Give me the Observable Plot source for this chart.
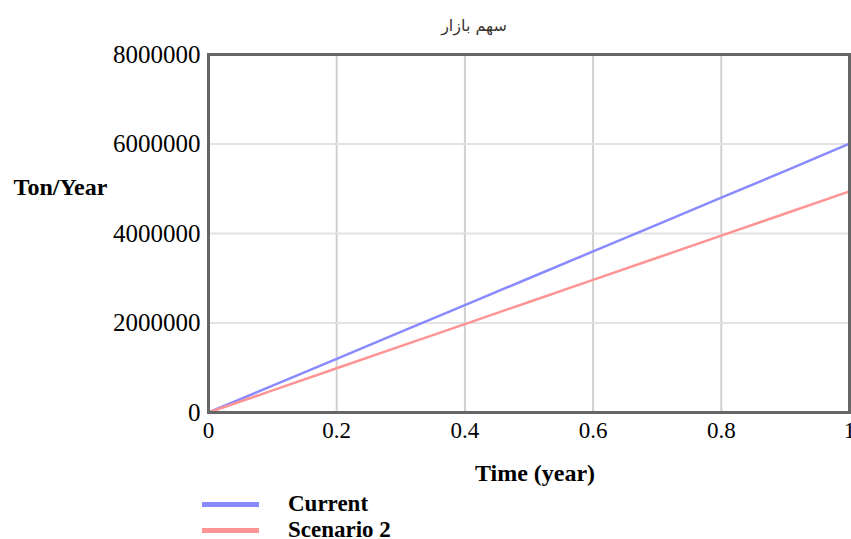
<!DOCTYPE html>
<html><head><meta charset="utf-8">
<script src="https://cdn.jsdelivr.net/npm/d3@7"></script>
<script src="https://cdn.jsdelivr.net/npm/@observablehq/plot@0.6"></script>
<style>
body{margin:0;background:#fff;}
#wrap{position:relative;width:851px;height:539px;overflow:hidden;background:#fff;}
#title{position:absolute;top:14px;left:374px;width:200px;text-align:center;direction:rtl;font-family:"DejaVu Sans",sans-serif;font-size:16px;color:#3a3530;height:26px;line-height:24px;}
#chart{position:absolute;top:40px;left:0;}
#legend{position:absolute;top:491px;left:202px;font-family:"Liberation Serif",serif;font-weight:bold;font-size:23px;color:#000;}
.row{height:26px;line-height:26px;display:flex;align-items:center;}
.sw{display:inline-block;width:57px;height:5px;margin-right:29px;}
</style></head>
<body>
<div id="wrap">
  <div id="title"></div>
  <div id="chart"></div>
  <div id="legend"></div>
</div>
<script>
const titleText = "سهم بازار";
const yLabel = "Ton/Year";
const xLabel = "Time (year)";
const seriesNames = ["Current", "Scenario 2"];
const seriesColors = ["#8a8aff", "#ff9494"];
const time = [0, 0.1, 0.2, 0.3, 0.4, 0.5, 0.6, 0.7, 0.8, 0.9, 1];
const current = [0, 600000, 1200000, 1800000, 2400000, 3000000, 3600000, 4200000, 4800000, 5400000, 6010000];
const scenario2 = [0, 494000, 988000, 1482000, 1976000, 2470000, 2964000, 3458000, 3952000, 4446000, 4940000];
const xTicks = [0, 0.2, 0.4, 0.6, 0.8, 1];
const yTicks = [0, 2000000, 4000000, 6000000, 8000000];

document.getElementById("title").textContent = titleText;

const rows = [];
time.forEach((t, i) => {
  rows.push({t, v: current[i], s: seriesNames[0]});
  rows.push({t, v: scenario2[i], s: seriesNames[1]});
});

const chart = Plot.plot({
  width: 851,
  height: 451,
  marginTop: 14,
  marginBottom: 79,
  marginLeft: 208,
  marginRight: 2,
  style: {fontFamily: "Liberation Serif, serif", fontSize: "22px", color: "#000", background: "#fff", overflow: "visible"},
  x: {domain: [0, 1]},
  y: {domain: [0, 8000000]},
  color: {domain: seriesNames, range: seriesColors},
  marks: [
    Plot.gridX(xTicks.slice(1, -1), {stroke: "#d0d0d0", strokeOpacity: 1, strokeWidth: 2}),
    Plot.gridY(yTicks.slice(1, -1), {stroke: "#e2e2e2", strokeOpacity: 1, strokeWidth: 2}),
    Plot.line(rows, {x: "t", y: "v", stroke: "s", strokeWidth: 2.5}),
    Plot.frame({stroke: "#666", strokeWidth: 3}),
    Plot.axisX(xTicks, {tickSize: 0, tickPadding: 9, tickFormat: d => String(d), label: null, fontSize: 23}),
    Plot.axisY(yTicks, {tickSize: 0, tickPadding: 8, tickFormat: d3.format("d"), label: null, fontSize: 25}),
    Plot.text([yLabel], {frameAnchor: "left", dx: -148, dy: -46, textAnchor: "middle", fontWeight: "bold", fontSize: 24}),
    Plot.text([xLabel], {frameAnchor: "bottom", dx: 6, dy: 68, textAnchor: "middle", fontWeight: "bold", fontSize: 24})
  ]
});
document.getElementById("chart").appendChild(chart);

const legend = document.getElementById("legend");
seriesNames.forEach((n, i) => {
  const r = document.createElement("div");
  r.className = "row";
  const sw = document.createElement("span");
  sw.className = "sw";
  sw.style.background = seriesColors[i];
  r.appendChild(sw);
  const tx = document.createElement("span");
  tx.textContent = n;
  r.appendChild(tx);
  legend.appendChild(r);
});
</script>
</body></html>
